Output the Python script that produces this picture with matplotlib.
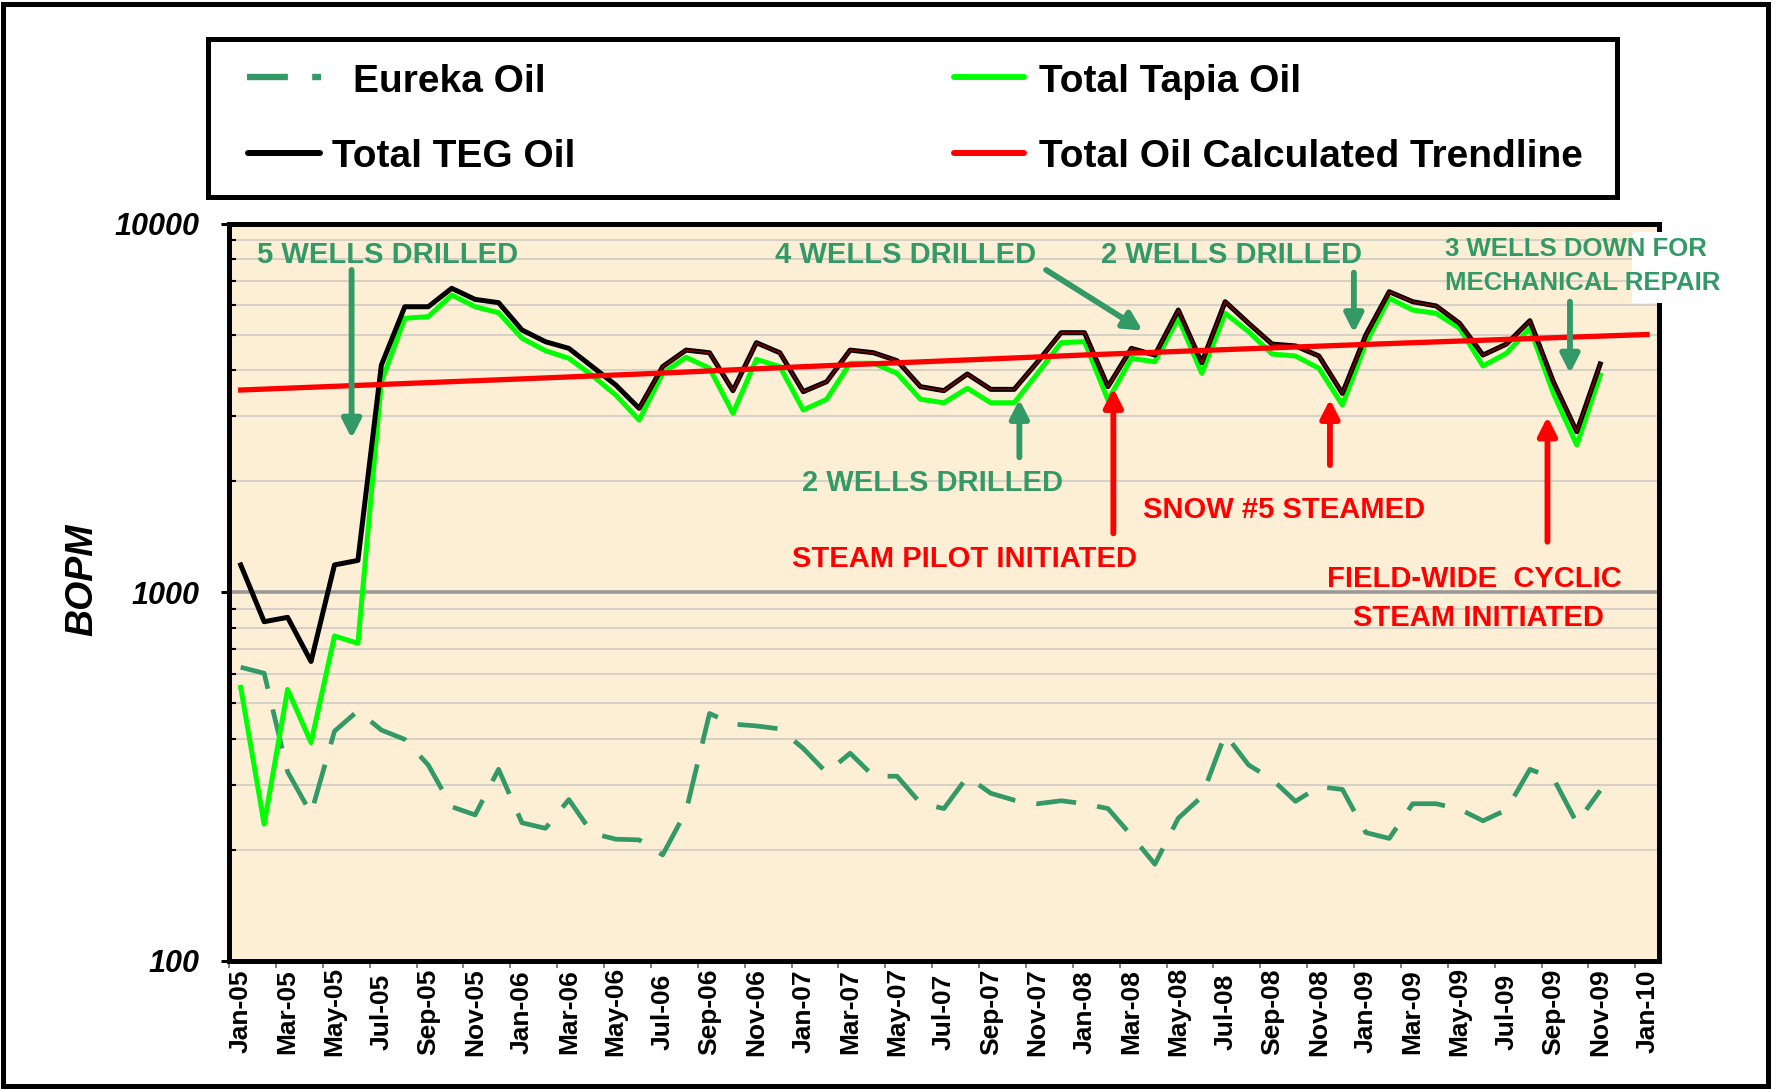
import matplotlib.pyplot as plt
from matplotlib.lines import Line2D
from matplotlib.patches import Rectangle
import numpy as np

plt.rcParams['font.family'] = ['Liberation Sans', 'DejaVu Sans']

# monthly values, Jan-05 .. Nov-09 (BOPM)
teg_oil = [1186, 832, 855, 649, 1186, 1220, 4130, 5946, 5946, 6672, 6226, 6100,
           5143, 4780, 4585, 4090, 3648, 3153, 4090, 4536, 4462, 3521, 4751, 4462,
           3499, 3724, 4536, 4462, 4246, 3610, 3521, 3907, 3550, 3550, 4217, 5057,
           5057, 3610, 4585, 4398, 5826, 4193, 6136, 5362, 4710, 4655, 4372, 3462,
           4984, 6531, 6136, 5976, 5362, 4398, 4710, 5450, 3724, 2725, 4159]
tapia_oil = [552, 235, 545, 391, 761, 727, 3720, 5532, 5590, 6397, 5946, 5729,
             4883, 4519, 4309, 3870, 3426, 2931, 3925, 4336, 4050, 3056, 4281, 4090,
             3120, 3337, 4177, 4177, 3925, 3337, 3265, 3573, 3265, 3265, 3925, 4751,
             4780, 3321, 4309, 4217, 5532, 3925, 5706, 5089, 4426, 4372, 4048, 3219,
             4732, 6270, 5826, 5706, 5196, 4107, 4446, 5196, 3462, 2508, 3884]
eureka_oil = [626, 603, 326, 251, 420, 477, 423, 399, 340, 262, 249, 331,
              237, 229, 274, 222, 214, 213, 194, 255, 469, 439, 434, 426,
              377, 324, 366, 317, 317, 268, 259, 316, 285, 273, 267, 272,
              267, 259, 219, 183, 244, 279, 412, 340, 311, 271, 297, 292,
              223, 215, 267, 267, 258, 240, 257, 331, 313, 237, 290]
trend_months = [0, 6, 12, 18, 24, 30, 36, 42, 48, 54, 60]
trend_oil = [3535, 3660, 3790, 3930, 4090, 4240, 4400, 4550, 4700, 4850, 5000]

month_labels = ['Jan-05', 'Mar-05', 'May-05', 'Jul-05', 'Sep-05', 'Nov-05',
                'Jan-06', 'Mar-06', 'May-06', 'Jul-06', 'Sep-06', 'Nov-06',
                'Jan-07', 'Mar-07', 'May-07', 'Jul-07', 'Sep-07', 'Nov-07',
                'Jan-08', 'Mar-08', 'May-08', 'Jul-08', 'Sep-08', 'Nov-08',
                'Jan-09', 'Mar-09', 'May-09', 'Jul-09', 'Sep-09', 'Nov-09',
                'Jan-10']

W, H = 1779, 1089
GREEN = '#339966'


def fx(px):
    return px / W


def fy(py):
    return 1 - py / H


fig = plt.figure(figsize=(17.79, 10.89), dpi=100)
fig.patch.set_facecolor('white')

ax = fig.add_axes([fx(229), fy(961), fx(1658.8) - fx(229), fy(223.5) - fy(961)])
ax.set_facecolor('#FCEFD6')
ax.set_yscale('log')
ax.set_ylim(100, 10000)
ax.set_xlim(-0.5, 60.5)

months = np.arange(len(teg_oil))

# grid
ax.yaxis.grid(True, which='minor', color='#D6D0C6', lw=1.4, zorder=1)
ax.axhline(1000, color='#999999', lw=2.6, zorder=1.2)

# series
ax.plot(months, eureka_oil, color=GREEN, lw=3.4, dashes=(8.5, 4.5), zorder=3)
ax.plot(months, tapia_oil, color='#00FF00', lw=3.6, zorder=4)
ax.plot(months, teg_oil, color='black', lw=3.6, zorder=5)
ax.plot(months[17:], teg_oil[17:], color='#8B0000', lw=1.0, zorder=6)
ax.plot(trend_months, trend_oil, color='#FF0000', lw=3.8, zorder=7)

# axes styling
for s in ax.spines.values():
    s.set_linewidth(3.6)
    s.set_zorder(8)

ax.set_yticks([100, 1000, 10000], ['100', '1000', '10000'],
              fontsize=22, fontweight='bold', fontstyle='italic')
ax.yaxis.set_minor_formatter(plt.NullFormatter())
ax.tick_params(axis='y', which='major', direction='out', length=6, width=2.2, pad=15)
ax.tick_params(axis='y', which='minor', direction='in', length=5, width=1.5)

ax.set_xticks(np.arange(0, 61, 2), month_labels, rotation=90, fontsize=19,
              fontweight='bold', va='center')
ax.set_xticks(np.arange(-0.5, 60, 2), minor=True)
ax.tick_params(axis='x', which='major', length=0, pad=36.5)
ax.tick_params(axis='x', which='minor', direction='out', length=5, width=1.2,
               color='#666666')

fig.text(fx(82.5), fy(580), 'BOPM', rotation=90, fontsize=27, fontweight='bold',
         fontstyle='italic', ha='center', va='center')

# annotations
txt = dict(fontsize=21, fontweight='bold', ha='center', va='baseline', zorder=9)
ax.text(6.27, 7829, '5 WELLS DRILLED', color=GREEN, **txt)
ax.text(28.37, 7829, '4 WELLS DRILLED', color=GREEN, **txt)
ax.text(42.29, 7829, '2 WELLS DRILLED', color=GREEN, **txt)
ax.text(29.51, 1885, '2 WELLS DRILLED', color=GREEN, **txt)
ax.text(30.9, 1173, 'STEAM PILOT INITIATED', color='#FF0000', **txt)
ax.text(44.51, 1586, 'SNOW #5 STEAMED', color='#FF0000', **txt)
ax.text(52.63, 1035, 'FIELD-WIDE  CYCLIC', color='#FF0000', **txt)
ax.text(52.79, 810, 'STEAM INITIATED', color='#FF0000', **txt)


def arrow(x0, y0, x1, y1, color):
    ax.annotate('', xy=(x1, y1), xytext=(x0, y0),
                arrowprops=dict(arrowstyle='-|>,head_length=0.55,head_width=0.28',
                                mutation_scale=20, color=color, lw=4.2,
                                shrinkA=0, shrinkB=0), zorder=9)


arrow(4.73, 7482, 4.73, 2615, GREEN)
arrow(34.36, 7482, 38.48, 5121, GREEN)
arrow(47.49, 7357, 47.49, 5054, GREEN)
arrow(56.71, 6138, 56.71, 3924, GREEN)
arrow(33.22, 2322, 33.22, 3336, GREEN)
arrow(37.23, 1444, 37.23, 3573, '#FF0000')
arrow(46.47, 2213, 46.47, 3336, '#FF0000')
arrow(55.75, 1371, 55.75, 2991, '#FF0000')

# white text box poking out of the plot corner
fig.add_artist(Rectangle((fx(1632), fy(303)), fx(1705) - fx(1632), fy(232) - fy(303),
                         transform=fig.transFigure, facecolor='white',
                         edgecolor='none', zorder=5))
fig.text(fx(1445), fy(256), '3 WELLS DOWN FOR', color=GREEN, fontsize=18.5,
         fontweight='bold', va='baseline', zorder=6)
fig.text(fx(1445), fy(290), 'MECHANICAL REPAIR', color=GREEN, fontsize=18.5,
         fontweight='bold', va='baseline', zorder=6)

# legend box
fig.add_artist(Rectangle((fx(207.6), fy(196.5)), fx(1616.8) - fx(207.6),
                         fy(39) - fy(196.5), transform=fig.transFigure,
                         fill=False, edgecolor='black', lw=3.6, zorder=6))
leg = dict(fontsize=28, fontweight='bold', va='baseline', zorder=7)
fig.add_artist(Line2D([fx(246.7), fx(321)], [fy(77.3)] * 2, transform=fig.transFigure,
                      color=GREEN, lw=4.6, dashes=(6.4, 3.8), dash_capstyle='butt'))
fig.text(fx(353.3), fy(91.7), 'Eureka Oil', **leg)
fig.add_artist(Line2D([fx(248), fx(320)], [fy(152.7)] * 2, transform=fig.transFigure,
                      color='black', lw=4.3, solid_capstyle='round'))
fig.text(fx(331.7), fy(166.7), 'Total TEG Oil', **leg)
fig.add_artist(Line2D([fx(954), fx(1024)], [fy(77.3)] * 2, transform=fig.transFigure,
                      color='#00FF00', lw=4.3, solid_capstyle='round'))
fig.text(fx(1038.6), fy(91.7), 'Total Tapia Oil', **leg)
fig.add_artist(Line2D([fx(954), fx(1024)], [fy(152.7)] * 2, transform=fig.transFigure,
                      color='#FF0000', lw=4.3, solid_capstyle='round'))
fig.text(fx(1038.6), fy(166.7), 'Total Oil Calculated Trendline', **leg)

# outer frame
fig.add_artist(Rectangle((fx(3), fy(1086)), fx(1768) - fx(3), fy(4) - fy(1086),
                         transform=fig.transFigure, fill=False, edgecolor='black',
                         lw=3.6, zorder=10))

fig.savefig('out.png', dpi=100)
